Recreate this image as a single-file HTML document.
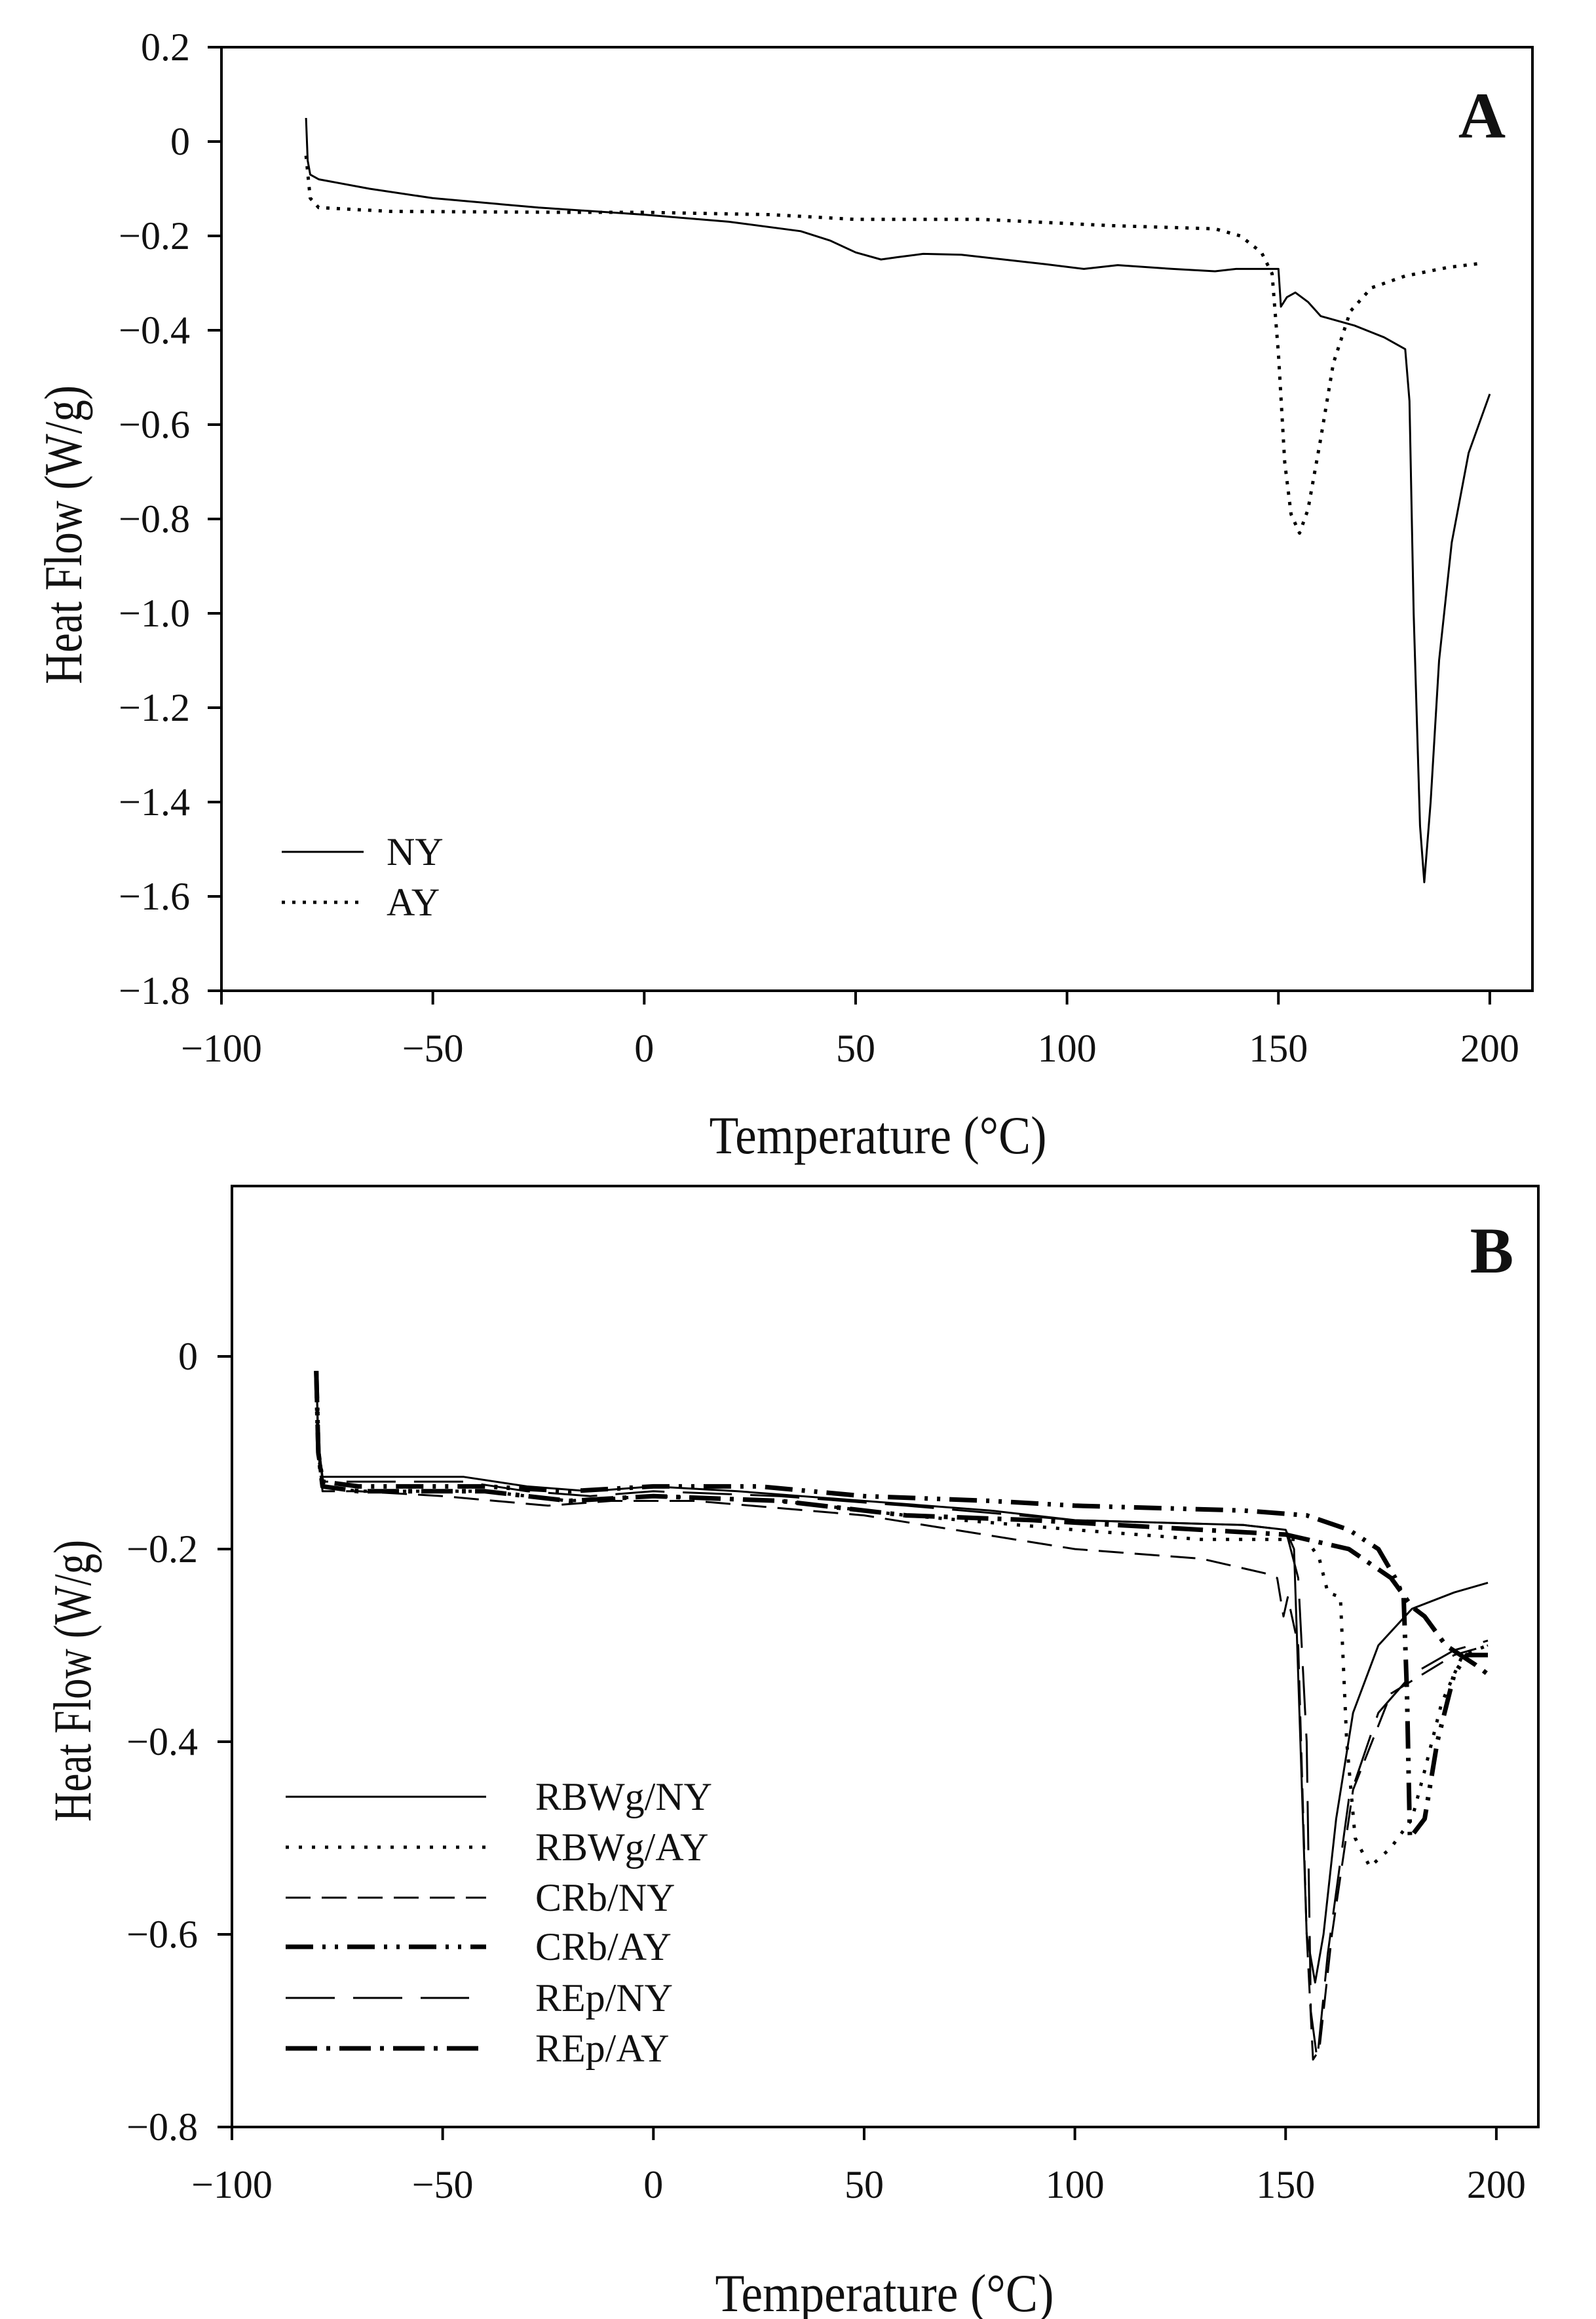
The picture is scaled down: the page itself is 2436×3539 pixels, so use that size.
<!DOCTYPE html>
<html><head><meta charset="utf-8"><style>
html,body{margin:0;padding:0;background:#fff;}
svg{display:block;}
text{font-family:"Liberation Serif",serif;fill:#111;}
</style></head><body>
<svg id="s" width="2436" height="3539" viewBox="0 0 2436 3539" xmlns="http://www.w3.org/2000/svg">
<rect width="2436" height="3539" fill="#fff"/>
<rect x="338" y="72" width="2001" height="1440" fill="none" stroke="#000" stroke-width="4"/>
<g id="ticksA" stroke="#000" stroke-width="4"></g>
<g id="labA" font-size="60" text-anchor="end"></g>
<text x="2262" y="210" font-size="100" font-weight="bold" text-anchor="middle">A</text>
<text transform="translate(124,816) rotate(-90)" font-size="82" text-anchor="middle" textLength="456" lengthAdjust="spacingAndGlyphs">Heat Flow (W/g)</text>
<text x="1340" y="1760" font-size="82" text-anchor="middle" textLength="515" lengthAdjust="spacingAndGlyphs">Temperature (°C)</text>
<g id="curA" fill="none" stroke="#000"></g>
<line x1="430" y1="1300" x2="555" y2="1300" stroke="#000" stroke-width="3"/>
<line x1="430" y1="1377" x2="555" y2="1377" stroke="#000" stroke-width="5" stroke-dasharray="5 11"/>
<text x="590" y="1320" font-size="60">NY</text>
<text x="590" y="1397" font-size="60">AY</text>

<rect x="354" y="1810" width="1994" height="1436" fill="none" stroke="#000" stroke-width="4"/>
<g id="ticksB" stroke="#000" stroke-width="4"></g>
<g id="labB" font-size="60" text-anchor="end"></g>
<text x="2277" y="1942" font-size="100" font-weight="bold" text-anchor="middle">B</text>
<text transform="translate(138,2565) rotate(-90)" font-size="82" text-anchor="middle" textLength="430" lengthAdjust="spacingAndGlyphs">Heat Flow (W/g)</text>
<text x="1350" y="3527" font-size="82" text-anchor="middle" textLength="517" lengthAdjust="spacingAndGlyphs">Temperature (°C)</text>
<g id="curB" fill="none" stroke="#000"></g>
<g stroke="#000" fill="none">
<line x1="436" y1="2742" x2="742" y2="2742" stroke-width="3"/>
<line x1="436" y1="2819" x2="742" y2="2819" stroke-width="5" stroke-dasharray="5 15"/>
<line x1="436" y1="2896" x2="742" y2="2896" stroke-width="3" stroke-dasharray="38 17"/>
<line x1="436" y1="2971" x2="742" y2="2971" stroke-width="7" stroke-dasharray="42 14 5 14 5 14"/>
<line x1="436" y1="3049" x2="716" y2="3049" stroke-width="3" stroke-dasharray="75 28"/>
<line x1="436" y1="3126" x2="742" y2="3126" stroke-width="7" stroke-dasharray="48 14 6 14"/>
</g>
<g font-size="60">
<text x="817" y="2762">RBWg/NY</text>
<text x="817" y="2839">RBWg/AY</text>
<text x="817" y="2916">CRb/NY</text>
<text x="817" y="2991">CRb/AY</text>
<text x="817" y="3069">REp/NY</text>
<text x="817" y="3146">REp/AY</text>
</g>
</svg>
<script>
var NS="http://www.w3.org/2000/svg";
function el(p,t,a,txt){var e=document.createElementNS(NS,t);for(var k in a)e.setAttribute(k,a[k]);if(txt!==undefined)e.textContent=txt;document.getElementById(p).appendChild(e);return e;}
function ax(t){return 338+(t+100)*6.453;}
function ay(v){return 72+(0.2-v)*720;}
function bx(t){return 354+(t+100)*6.433;}
function by(v){return 2070-v*1470;}
function fmt(v){var s=Math.abs(v).toFixed(1);if(Math.abs(v)<1e-9)return "0";return (v<0?"\u2212":"")+s;}
for(var v=0.2;v>-1.85;v-=0.2){var y=ay(v);el("ticksA","line",{x1:317,y1:y,x2:338,y2:y});el("labA","text",{x:290,y:y+20},fmt(Math.round(v*10)/10));}
for(var t=-100;t<=200;t+=50){var x=ax(t);el("ticksA","line",{x1:x,y1:1512,x2:x,y2:1533});el("labA","text",{x:x,y:1620,"text-anchor":"middle"},(t<0?"\u2212":"")+Math.abs(t));}
[0,-0.2,-0.4,-0.6,-0.8].forEach(function(v){var y=by(v);el("ticksB","line",{x1:332,y1:y,x2:354,y2:y});el("labB","text",{x:302,y:y+20},fmt(v));});
for(var t=-100;t<=200;t+=50){var x=bx(t);el("ticksB","line",{x1:x,y1:3246,x2:x,y2:3266});el("labB","text",{x:x,y:3354,"text-anchor":"middle"},(t<0?"\u2212":"")+Math.abs(t));}
function path(g,pts,fx,fy,attrs){var d="";pts.forEach(function(p,i){d+=(i?"L":"M")+fx(p[0]).toFixed(1)+" "+fy(p[1]).toFixed(1);});attrs.d=d;attrs["stroke-linejoin"]="round";el(g,"path",attrs);}
var NY=[[-80,0.05],[-79.6,-0.04],[-79,-0.07],[-77,-0.08],[-65,-0.10],[-50,-0.12],[-25,-0.14],[0,-0.155],[20,-0.17],[37,-0.19],[44,-0.21],[50,-0.235],[56,-0.25],[60,-0.245],[66,-0.238],[75,-0.24],[95,-0.26],[104,-0.27],[112,-0.262],[125,-0.27],[135,-0.275],[140,-0.27],[150,-0.27],[150.6,-0.35],[152,-0.33],[154,-0.32],[157,-0.34],[160,-0.37],[168,-0.39],[175,-0.415],[180,-0.44],[181,-0.55],[182,-1.0],[183.5,-1.45],[184.5,-1.57],[186,-1.4],[188,-1.1],[191,-0.85],[195,-0.66],[200,-0.535]];
var AY=[[-80,-0.03],[-79,-0.12],[-77,-0.14],[-60,-0.148],[-20,-0.15],[0,-0.15],[30,-0.155],[50,-0.165],[80,-0.165],[110,-0.178],[135,-0.185],[141,-0.2],[146,-0.235],[148.5,-0.28],[150,-0.45],[151.5,-0.68],[153,-0.79],[155,-0.83],[157,-0.78],[160,-0.63],[163,-0.47],[167,-0.36],[172,-0.31],[180,-0.285],[190,-0.267],[198,-0.258]];
path("curA",NY,ax,ay,{"stroke-width":3});
path("curA",AY,ax,ay,{"stroke-width":5,"stroke-dasharray":"5 11"});
var B1=[[-80,-0.015],[-79.5,-0.09],[-78.5,-0.125],[-70,-0.125],[-45,-0.125],[-30,-0.135],[-15,-0.14],[0,-0.135],[20,-0.14],[50,-0.15],[80,-0.16],[100,-0.17],[140,-0.175],[150,-0.18],[152,-0.2],[153.5,-0.4],[155,-0.6],[157,-0.65],[159,-0.6],[162,-0.48],[166,-0.37],[172,-0.3],[180,-0.262],[190,-0.245],[198,-0.235]];
var B2=[[-80,-0.015],[-79.5,-0.1],[-78.5,-0.135],[-70,-0.14],[-40,-0.14],[-20,-0.15],[0,-0.145],[30,-0.15],[60,-0.165],[100,-0.18],[130,-0.19],[155,-0.19],[158,-0.21],[160,-0.245],[163,-0.25],[164.5,-0.4],[166.5,-0.5],[170,-0.53],[175,-0.51],[180,-0.48],[183,-0.43],[187,-0.36],[192,-0.31],[198,-0.30]];
var B3=[[-80,-0.015],[-79.5,-0.1],[-78.5,-0.14],[-70,-0.14],[-50,-0.145],[-25,-0.155],[-10,-0.15],[10,-0.15],[50,-0.165],[100,-0.2],[130,-0.21],[145,-0.225],[148,-0.23],[149.5,-0.27],[150.5,-0.25],[153,-0.3],[155,-0.6],[156.5,-0.73],[158,-0.72],[161,-0.6],[166,-0.45],[175,-0.35],[190,-0.31],[198,-0.3]];
var B4=[[-80,-0.015],[-79.5,-0.1],[-78.5,-0.13],[-70,-0.135],[-40,-0.135],[-20,-0.14],[0,-0.135],[25,-0.135],[50,-0.145],[80,-0.15],[100,-0.155],[140,-0.16],[155,-0.165],[165,-0.18],[172,-0.2],[176,-0.23],[178,-0.25],[178.8,-0.35],[179.5,-0.5],[183,-0.48],[186,-0.4],[190,-0.33],[193,-0.31],[198,-0.31]];
var B5=[[-80,-0.015],[-79.5,-0.09],[-78.5,-0.13],[-70,-0.13],[-45,-0.13],[-30,-0.14],[-15,-0.145],[0,-0.14],[30,-0.145],[60,-0.155],[100,-0.17],[140,-0.175],[150,-0.18],[153,-0.23],[155,-0.4],[156,-0.68],[157.5,-0.73],[160,-0.62],[165,-0.46],[172,-0.37],[180,-0.33],[190,-0.305],[198,-0.295]];
var B6=[[-80,-0.015],[-79.5,-0.1],[-78.5,-0.135],[-70,-0.14],[-40,-0.14],[-20,-0.15],[0,-0.145],[30,-0.15],[60,-0.165],[90,-0.17],[130,-0.18],[150,-0.185],[165,-0.2],[175,-0.23],[180,-0.26],[183,-0.27],[188,-0.3],[195,-0.32],[198,-0.33]];
path("curB",B1,bx,by,{"stroke-width":3});
path("curB",B2,bx,by,{"stroke-width":5,"stroke-dasharray":"5 15"});
path("curB",B3,bx,by,{"stroke-width":3,"stroke-dasharray":"38 17"});
path("curB",B4,bx,by,{"stroke-width":7,"stroke-dasharray":"42 14 5 14 5 14"});
path("curB",B5,bx,by,{"stroke-width":3,"stroke-dasharray":"75 28"});
path("curB",B6,bx,by,{"stroke-width":7,"stroke-dasharray":"48 14 6 14"});
</script>
</body></html>
